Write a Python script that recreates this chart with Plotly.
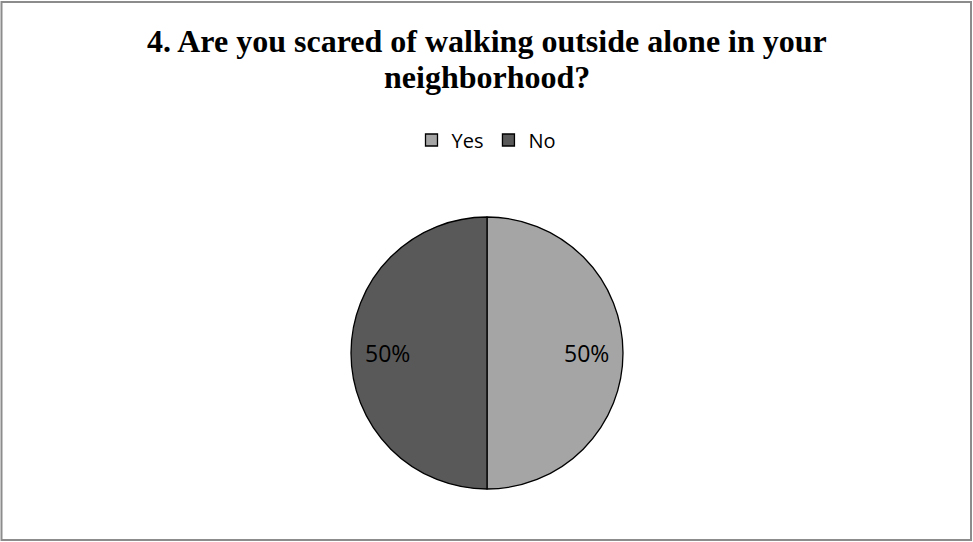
import math
import plotly.graph_objects as go

W, H = 973, 542

labels = ["Yes", "No"]
values = [50, 50]
colors = ["#A5A5A5", "#595959"]
title_lines = ["4. Are you scared of walking outside alone in your", "neighborhood?"]

# pie geometry in pixels
cx, cy, r = 487, 353, 136
label_radius = 0.73 * r

fig = go.Figure(
    go.Pie(
        labels=labels,
        values=values,
        sort=False,
        direction="clockwise",
        rotation=0,
        marker=dict(colors=colors, line=dict(color="#000000", width=1.3)),
        textinfo="none",
        domain=dict(x=[(cx - r) / W, (cx + r) / W], y=[1 - (cy + r) / H, 1 - (cy - r) / H]),
        showlegend=True,
        hoverinfo="label+percent",
    )
)

# percentage labels placed at each slice's mid-angle
annotations = []
total = sum(values)
start = 0.0
for v in values:
    mid = start + v / 2
    ang = 2 * math.pi * mid / total  # clockwise from 12 o'clock
    px = cx + label_radius * math.sin(ang)
    py = cy - label_radius * math.cos(ang) if abs(math.cos(ang)) > 1e-9 else cy
    annotations.append(
        dict(
            text=f"{round(100 * v / total)}%",
            x=px / W, y=1 - py / H, xref="paper", yref="paper",
            xanchor="center", yanchor="middle", showarrow=False,
            font=dict(family="Open Sans", size=23, color="#000000"),
        )
    )
    start += v

# two-line bold title
for text, ymid in zip(title_lines, [41, 77]):
    annotations.append(
        dict(
            text="<b>" + text + "</b>",
            x=0.5, y=1 - ymid / H, xref="paper", yref="paper",
            xanchor="center", yanchor="middle", showarrow=False,
            font=dict(family="Liberation Serif", size=32, color="#000000"),
        )
    )

fig.update_layout(
    width=W,
    height=H,
    margin=dict(l=0, r=0, t=0, b=0),
    paper_bgcolor="white",
    plot_bgcolor="white",
    annotations=annotations,
    legend=dict(
        orientation="h",
        x=0.5, y=1 - 140 / H, xanchor="center", yanchor="middle",
        font=dict(family="Open Sans", size=20, color="#000000"),
        itemwidth=30,
        traceorder="normal",
    ),
    shapes=[
        dict(
            type="rect", xref="paper", yref="paper",
            x0=1.5 / W, x1=971 / W, y0=1 - 540 / H, y1=1 - 2 / H,
            line=dict(color="#8C8C8C", width=2),
        )
    ],
)

fig.write_html("out.html")
